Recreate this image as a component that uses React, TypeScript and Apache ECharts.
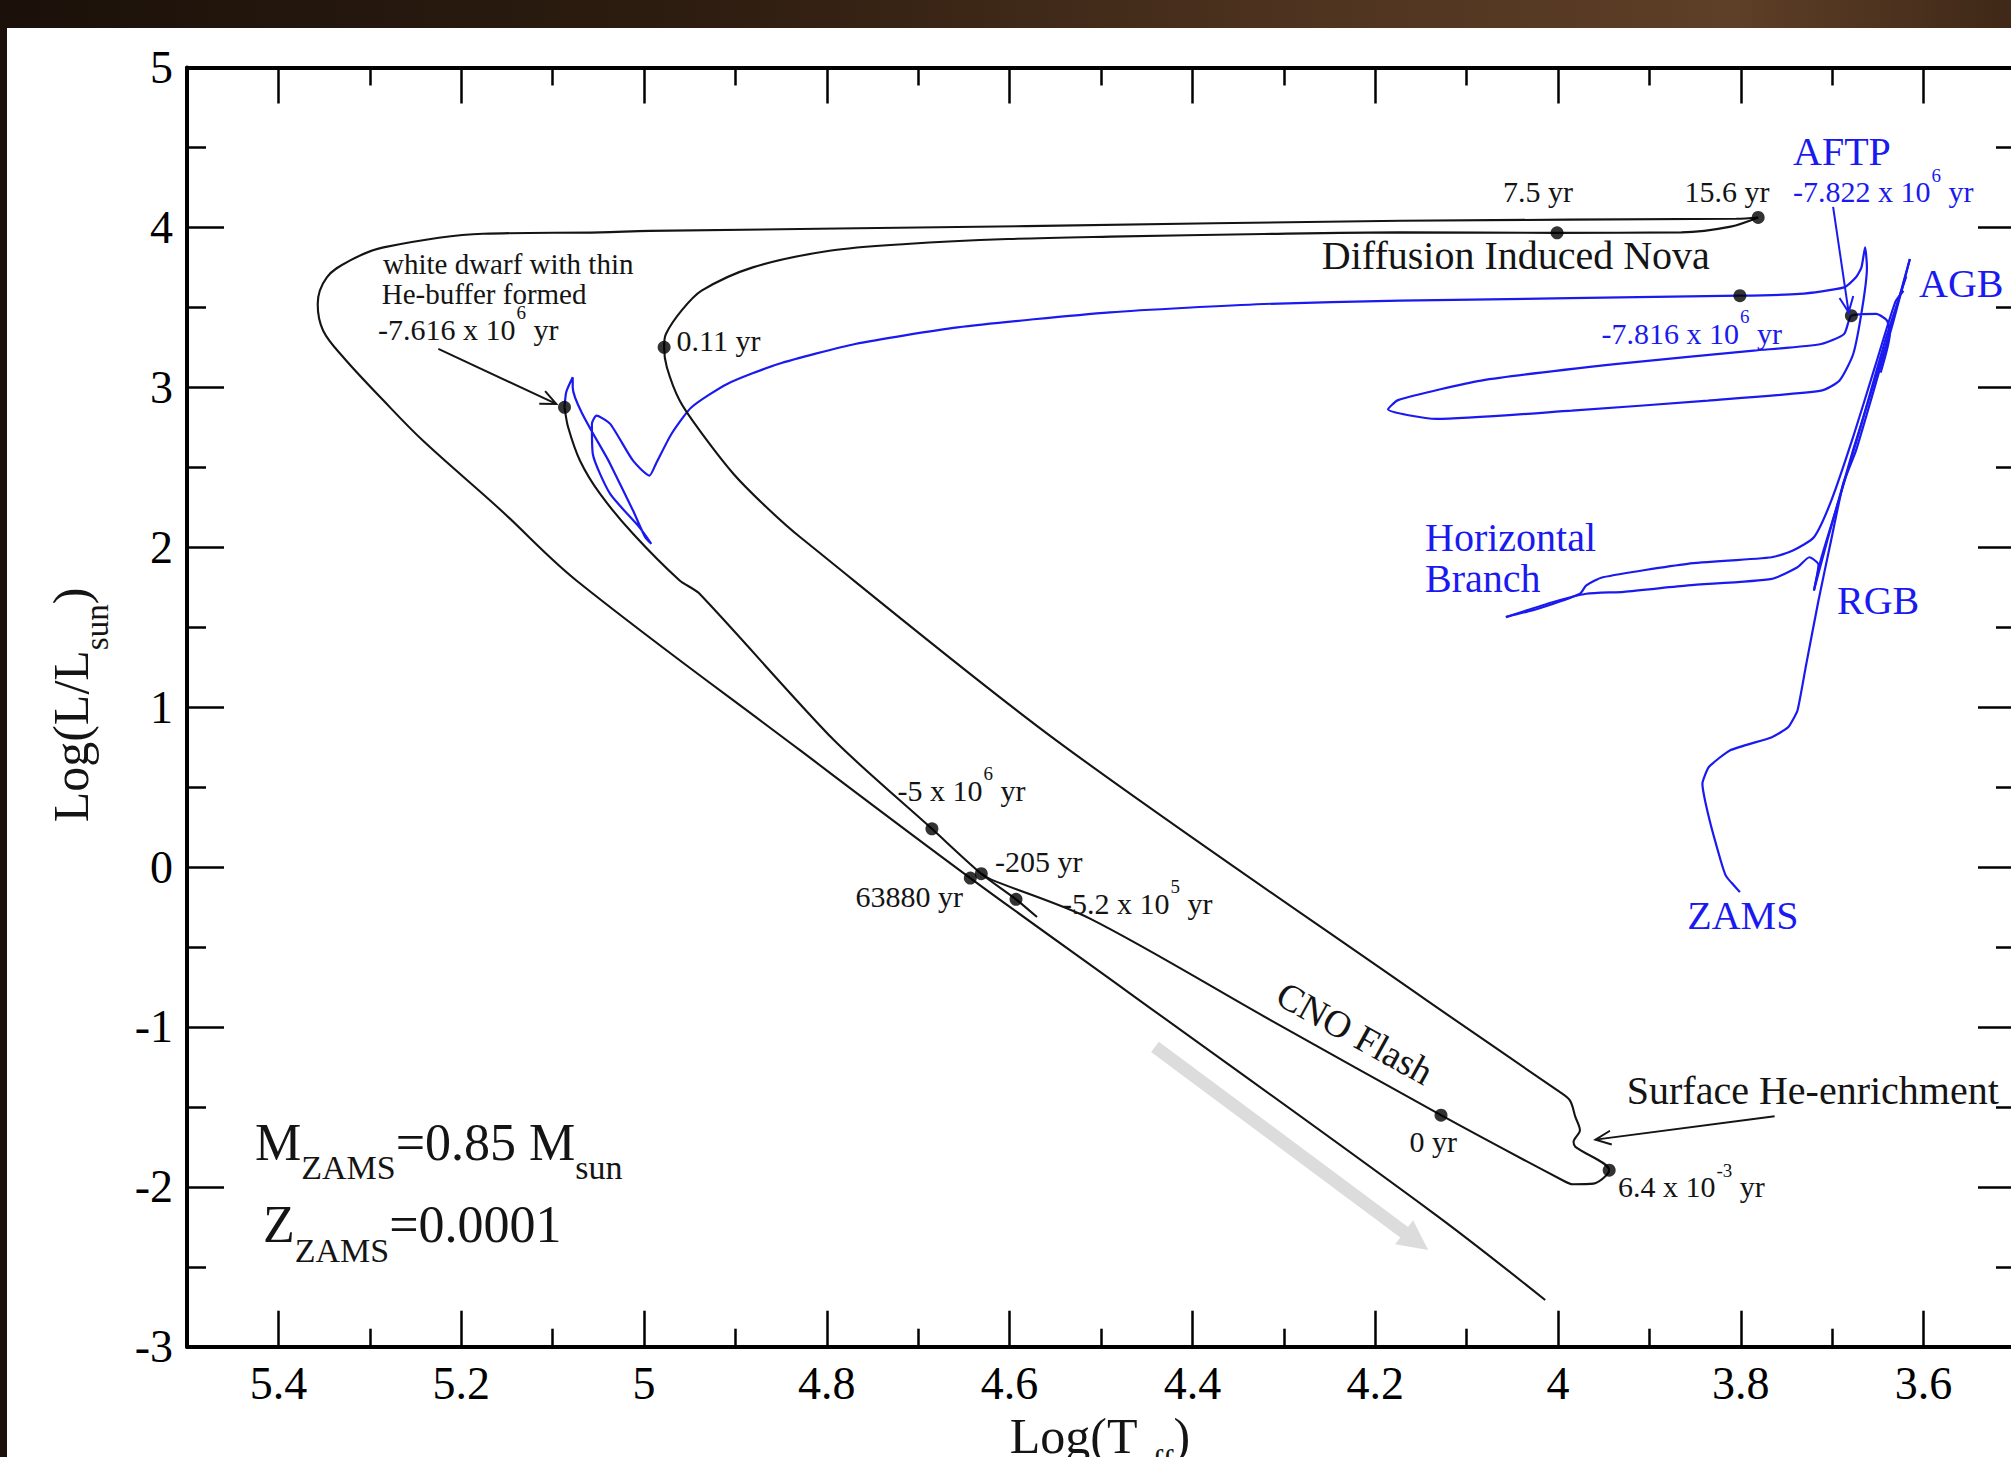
import React, { useEffect, useRef } from "react";
import * as echarts from "echarts";

const FONT = "Liberation Serif, Times New Roman, Times, serif";
const BLUE = "#1a1af0";
const INK = "#141414";

// ---- axes ----
const xMajorTicks = [3.6, 3.8, 4.0, 4.2, 4.4, 4.6, 4.8, 5.0, 5.2, 5.4];
const xMinorTicks = [3.5, 3.7, 3.9, 4.1, 4.3, 4.5, 4.7, 4.9, 5.1, 5.3, 5.5];

// ---- black tracks: [log Teff, log L/Lsun] ----
const outerLoopTrack = [
  [3.781, 4.062], [3.805, 4.054], [4.172, 4.042], [4.582, 4.008], [4.994, 3.978], [5.048, 3.969],
  [5.176, 3.96], [5.285, 3.875], [5.322, 3.792], [5.347, 3.688], [5.357, 3.521], [5.351, 3.354],
  [5.329, 3.188], [5.285, 2.917], [5.242, 2.667], [5.158, 2.239], [5.074, 1.792], [4.829, 0.729],
  [4.643, -0.069], [4.473, -0.771], [4.136, -2.166], [4.014, -2.708],
];
const novaTrack = [
  [4.631, -0.042], [4.62, -0.079], [4.512, -0.323], [4.315, -0.956], [4.128, -1.552],
  [3.995, -1.959], [3.984, -1.984], [3.961, -1.98], [3.944, -1.896], [3.981, -1.75], [3.983, -1.719],
  [3.976, -1.646], [3.981, -1.563], [3.987, -1.459], [4.001, -1.396], [4.144, -0.833], [4.549, 0.792],
  [4.829, 2.062], [4.866, 2.25], [4.902, 2.458], [4.939, 2.729], [4.961, 2.917], [4.975, 3.125],
  [4.978, 3.25], [4.976, 3.333], [4.959, 3.479], [4.937, 3.604], [4.881, 3.75], [4.797, 3.854],
  [4.713, 3.896], [4.602, 3.927], [4.49, 3.942], [4.322, 3.959], [4.173, 3.969], [4.001, 3.966],
  [3.865, 3.969], [3.811, 4.005], [3.781, 4.062],
];
const coolingTrack = [
  [5.087, 2.875], [5.083, 2.75], [5.07, 2.541], [5.048, 2.333], [5.012, 2.084],
  [4.961, 1.792], [4.94, 1.713], [4.792, 0.792], [4.685, 0.239], [4.631, -0.042], [4.593, -0.202],
  [4.57, -0.313],
];

// ---- blue tracks ----
const zamsToRgbTip = [
  [3.81, -0.098], [3.801, -0.157], [3.816, -0.058], [3.822, 0.041], [3.835, 0.312], [3.842, 0.521],
  [3.835, 0.625], [3.812, 0.729], [3.766, 0.812], [3.748, 0.875], [3.738, 0.979], [3.729, 1.25],
  [3.715, 1.667], [3.702, 2.021], [3.688, 2.396], [3.674, 2.604], [3.653, 3.012], [3.633, 3.413],
  [3.615, 3.802],
];
const rgbTipToZahb = [
  [3.615, 3.802], [3.642, 3.252], [3.677, 2.611], [3.705, 2.05], [3.72, 1.729], [3.715, 1.89],
  [3.725, 1.937], [3.738, 1.875], [3.766, 1.802], [3.858, 1.761], [3.928, 1.721], [3.969, 1.709],
  [4.006, 1.656], [4.057, 1.563],
];
const zahbToAgb = [
  [4.057, 1.563], [4.021, 1.617], [3.976, 1.709], [3.969, 1.761], [3.951, 1.812], [3.858, 1.896],
  [3.766, 1.937], [3.743, 1.979], [3.72, 2.062], [3.701, 2.291], [3.677, 2.691], [3.653, 3.132],
  [3.631, 3.533], [3.622, 3.604],
];
const agbBundle = [
  [3.72, 1.729], [3.712, 1.93], [3.695, 2.251], [3.67, 2.731], [3.642, 3.293], [3.619, 3.693],
];
const postAgbTrack = [
  [3.647, 3.092], [3.637, 3.333], [3.64, 3.417], [3.652, 3.459], [3.679, 3.448], [3.687, 3.333],
  [3.712, 3.271], [3.786, 3.229], [3.935, 3.146], [4.084, 3.042], [4.175, 2.92], [4.186, 2.862],
  [4.133, 2.802], [3.985, 2.854], [3.836, 2.917], [3.712, 2.979], [3.692, 3.042], [3.677, 3.208],
  [3.667, 3.5], [3.662, 3.75], [3.664, 3.875], [3.668, 3.75], [3.674, 3.688], [3.687, 3.625],
  [3.736, 3.584], [3.801, 3.573], [4.173, 3.542], [4.322, 3.521], [4.49, 3.469], [4.657, 3.375],
  [4.769, 3.271], [4.853, 3.146], [4.909, 3.021], [4.948, 2.875], [4.97, 2.708], [4.987, 2.521],
  [4.994, 2.448], [5.012, 2.541], [5.037, 2.771], [5.052, 2.823], [5.057, 2.771], [5.056, 2.583],
  [5.037, 2.333], [5.005, 2.125], [4.992, 2.021], [4.999, 2.066], [5.012, 2.229], [5.037, 2.521],
  [5.078, 3.0], [5.078, 3.063], [5.085, 2.972], [5.087, 2.875],
];

// ---- marked epochs (black dots) ----
const markedEpochs = [
  [3.781, 4.062], [4.001, 3.966], [3.801, 3.573], [3.679, 3.448], [4.978, 3.25], [5.087, 2.875],
  [4.685, 0.239], [4.631, -0.042], [4.643, -0.069], [4.593, -0.202], [4.128, -1.552], [3.944, -1.896],
];

// ---- arrows (data coordinates: from, to) ----
const wdArrow = [[5.225, 3.24], [5.096, 2.896]];
const heArrow = [[3.763, -1.559], [3.959, -1.705]];
const aftpArrow = [[3.699, 4.129], [3.682, 3.469]];
const coolingDirection = [[4.441, -1.125], [4.142, -2.396]];

const CHART_W = 2040;
const CHART_H = 1457;

let measureCtx: CanvasRenderingContext2D | null = null;
function textWidth(text: string, size: number) {
  if (!measureCtx) measureCtx = document.createElement("canvas").getContext("2d");
  if (!measureCtx) return text.length * size * 0.5;
  measureCtx.font = `${size}px ${FONT}`;
  return measureCtx.measureText(text).width;
}

function lineSeries(data: number[][], color: string, smooth: number, width = 2) {
  return {
    type: "line",
    data,
    showSymbol: false,
    symbol: "none",
    smooth,
    silent: true,
    z: 3,
    lineStyle: { color, width },
    itemStyle: { color },
  };
}

const tickLabelStyle = { fontSize: 46, fontFamily: FONT, color: "#000" };

function xAxisDef(position: string, ticks: number[], len: number, showLine: boolean, showLabel: boolean) {
  return {
    type: "value",
    min: 3.5,
    max: 5.5,
    inverse: true,
    position,
    splitLine: { show: false },
    axisLine: { show: showLine, onZero: false, lineStyle: { color: "#000", width: 4 } },
    axisTick: { show: true, inside: true, length: len, customValues: ticks, lineStyle: { color: "#000", width: 2.5 } },
    axisLabel: {
      show: showLabel,
      customValues: ticks,
      margin: 14,
      ...tickLabelStyle,
      formatter: (v: number) => String(Math.round(v * 10) / 10),
    },
  };
}

function yAxisDef(position: string, showLabel: boolean) {
  return {
    type: "value",
    min: -3,
    max: 5,
    interval: 1,
    position,
    splitLine: { show: false },
    minorSplitLine: { show: false },
    axisLine: { show: true, onZero: false, lineStyle: { color: "#000", width: 4 } },
    axisTick: { show: true, inside: true, length: 37, lineStyle: { color: "#000", width: 2.5 } },
    minorTick: { show: true, splitNumber: 2, length: 19, lineStyle: { color: "#000", width: 2.5 } },
    axisLabel: { show: showLabel, margin: 14, ...tickLabelStyle },
  };
}

function plainText(text: string, x: number, y: number, size: number, color: string, extra: any = {}) {
  return {
    type: "text",
    x,
    y,
    z: 10,
    silent: true,
    ...extra,
    style: { text, fill: color, fontSize: size, fontFamily: FONT, align: "left", verticalAlign: "middle", ...(extra.style || {}) },
  };
}

// text with a superscript, laid out piece by piece: parts [before, sup, after]
function supText(parts: string[], left: number, mainCenter: number, color: string) {
  const m = 30, s = 19, d = -16.6;
  const w0 = textWidth(parts[0], m);
  const ws = textWidth(parts[1], s);
  return [
    plainText(parts[0], left, mainCenter, m, color),
    plainText(parts[1], left + w0 + 1, mainCenter + d, s, color),
    plainText(parts[2], left + w0 + ws + 1, mainCenter, m, color),
  ];
}

// main text with subscripts: tokens [text, isSub]
function subText(tokens: [string, boolean][], x: number, y: number, m: number, s: number, d: number, align: string, extra: any = {}) {
  const LH = d + s / 2 + m / 2;
  return {
    type: "text",
    x,
    y,
    z: 10,
    silent: true,
    ...extra,
    style: {
      text: tokens.map(([t, sub]) => `{${sub ? "b" : "m"}|${t}}`).join(""),
      fill: INK,
      fontSize: m,
      fontFamily: FONT,
      align,
      verticalAlign: "middle",
      rich: {
        m: { fontSize: m, fontFamily: FONT, verticalAlign: "top", fill: INK },
        b: { fontSize: s, fontFamily: FONT, lineHeight: LH, verticalAlign: "bottom", fill: INK },
      },
    },
  };
}
// offset from the main text centre to the block centre for subText
const subShift = (m: number, s: number, d: number) => -m / 2 + (d + s / 2 + m / 2) / 2;

function openArrow(p1: number[], p2: number[], color: string) {
  const ang = Math.atan2(p2[1] - p1[1], p2[0] - p1[0]);
  const L = 17, a = 0.42;
  const h1 = [p2[0] - L * Math.cos(ang - a), p2[1] - L * Math.sin(ang - a)];
  const h2 = [p2[0] - L * Math.cos(ang + a), p2[1] - L * Math.sin(ang + a)];
  return [
    { type: "line", z: 9, silent: true, shape: { x1: p1[0], y1: p1[1], x2: p2[0], y2: p2[1] }, style: { stroke: color, lineWidth: 2 } },
    { type: "polyline", z: 9, silent: true, shape: { points: [h1, p2, h2] }, style: { stroke: color, lineWidth: 2 } },
  ];
}

function blockArrow(p1: number[], p2: number[]) {
  const dx = p2[0] - p1[0], dy = p2[1] - p1[1];
  const len = Math.hypot(dx, dy);
  const ux = dx / len, uy = dy / len, nx = -uy, ny = ux;
  const hw = 6.5, HW = 15, HL = 30;
  const bx = p2[0] - ux * HL, by = p2[1] - uy * HL;
  return {
    type: "polygon",
    z: 1,
    silent: true,
    shape: {
      points: [
        [p1[0] + nx * hw, p1[1] + ny * hw],
        [bx + nx * hw, by + ny * hw],
        [bx + nx * HW, by + ny * HW],
        [p2[0], p2[1]],
        [bx - nx * HW, by - ny * HW],
        [bx - nx * hw, by - ny * hw],
        [p1[0] - nx * hw, p1[1] - ny * hw],
      ],
    },
    style: { fill: "#dcdcdc" },
  };
}

export default function App() {
  const ref = useRef<HTMLDivElement>(null);

  useEffect(() => {
    const chart = echarts.init(ref.current as HTMLDivElement, null, { renderer: "svg" });
    const option: any = {
      animation: false,
      backgroundColor: "#ffffff",
      textStyle: { fontFamily: FONT },
      grid: { left: 187, right: 25, top: 67.5, bottom: 110.3, containLabel: false },
      xAxis: [
        xAxisDef("bottom", xMajorTicks, 36, true, true),
        xAxisDef("bottom", xMinorTicks, 18, false, false),
        xAxisDef("top", xMajorTicks, 36, true, false),
        xAxisDef("top", xMinorTicks, 18, false, false),
      ],
      yAxis: [yAxisDef("left", true), yAxisDef("right", false)],
      series: [
        lineSeries(zamsToRgbTip, BLUE, 0.15, 2.2),
        lineSeries(rgbTipToZahb, BLUE, 0.2, 2.2),
        lineSeries(zahbToAgb, BLUE, 0.2, 2.2),
        lineSeries(agbBundle, BLUE, 0.2, 2.2),
        lineSeries(postAgbTrack, BLUE, 0.2, 2.2),
        lineSeries(outerLoopTrack, INK, 0.35, 2.1),
        lineSeries(novaTrack, INK, 0.3, 2.1),
        lineSeries(coolingTrack, INK, 0.25, 2.1),
        {
          type: "scatter",
          data: markedEpochs,
          symbol: "circle",
          symbolSize: 13,
          z: 6,
          silent: true,
          itemStyle: { color: "#000" },
        },
      ],
    };
    chart.setOption(option);

    const px = (p: number[]) => chart.convertToPixel({ xAxisIndex: 0, yAxisIndex: 0 } as any, p) as number[];

    const graphics: any[] = [
      {
        type: "rect",
        z: 0,
        silent: true,
        shape: { x: 0, y: 0, width: CHART_W, height: 28 },
        style: {
          fill: new echarts.graphic.LinearGradient(0, 0, 1, 0, [
            { offset: 0, color: "#1b110a" },
            { offset: 0.35, color: "#2e1d10" },
            { offset: 0.65, color: "#4f3420" },
            { offset: 0.85, color: "#5e3f27" },
            { offset: 1, color: "#3c2616" },
          ]),
        },
      },
      { type: "rect", z: 0, silent: true, shape: { x: 0, y: 0, width: 7, height: CHART_H }, style: { fill: "#1b110a" } },
      blockArrow(px(coolingDirection[0]), px(coolingDirection[1])),
      ...openArrow(px(wdArrow[0]), px(wdArrow[1]), INK),
      ...openArrow(px(heArrow[0]), px(heArrow[1]), INK),
      ...openArrow(px(aftpArrow[0]), px(aftpArrow[1]), BLUE),

      // small time labels
      plainText("7.5 yr", 1503, 191.7, 30, INK),
      plainText("15.6 yr", 1684.6, 191.7, 30, INK),
      plainText("0.11 yr", 676.5, 340, 30, INK),
      plainText("white dwarf with thin", 383, 264, 29, INK),
      plainText("He-buffer formed", 381.7, 294, 29, INK),
      plainText("-205 yr", 995, 861.7, 30, INK),
      plainText("63880 yr", 855.5, 896.7, 30, INK),
      plainText("0 yr", 1409.5, 1141.7, 30, INK),
      ...supText(["-7.822 x 10", "6", " yr"], 1793, 191.7, BLUE),
      ...supText(["-7.816 x 10", "6", " yr"], 1601.6, 333.3, BLUE),
      ...supText(["-7.616 x 10", "6", " yr"], 378, 329, INK),
      ...supText(["-5 x 10", "6", " yr"], 897.6, 790, INK),
      ...supText(["-5.2 x 10", "5", " yr"], 1062, 903.3, INK),
      ...supText(["6.4 x 10", "-3", " yr"], 1618, 1186.7, INK),

      // phase labels
      plainText("Diffusion Induced Nova", 1321.8, 255, 40, INK),
      plainText("AFTP", 1793, 151.7, 40, BLUE),
      plainText("AGB", 1919, 283.3, 40, BLUE),
      plainText("Horizontal", 1425, 537.3, 40, BLUE),
      plainText("Branch", 1425, 578.3, 40, BLUE),
      plainText("RGB", 1837, 600, 40, BLUE),
      plainText("ZAMS", 1687.3, 915, 40, BLUE),
      plainText("Surface He-enrichment", 1626.8, 1090, 40, INK),
      plainText("CNO Flash", 1355, 1033, 38, INK, {
        rotation: (-29 * Math.PI) / 180,
        style: { align: "center" },
      }),

      // model parameters
      subText([["M", false], ["ZAMS", true], ["=0.85 M", false], ["sun", true]], 255, 1142.5 + subShift(52, 34, 25), 52, 34, 25, "left"),
      subText([["Z", false], ["ZAMS", true], ["=0.0001", false]], 263, 1224.2 + subShift(52, 34, 26), 52, 34, 26, "left"),

      // axis names
      subText([["Log(T", false], ["eff", true], [")", false]], 1100, 1436 + subShift(50, 33, 26), 50, 33, 26, "center"),
      subText([["Log(L/L", false], ["sun", true], [")", false]], 70.5 + subShift(50, 33, 26), 705, 50, 33, 26, "center", {
        rotation: Math.PI / 2,
      }),
    ];

    chart.setOption({ graphic: graphics });

    return () => chart.dispose();
  }, []);

  return (
    <div
      style={{
        position: "fixed",
        left: 0,
        top: 0,
        width: 2011,
        height: 1457,
        overflow: "hidden",
        background: "#ffffff",
      }}
    >
      <div ref={ref} style={{ width: CHART_W, height: CHART_H }} />
    </div>
  );
}
